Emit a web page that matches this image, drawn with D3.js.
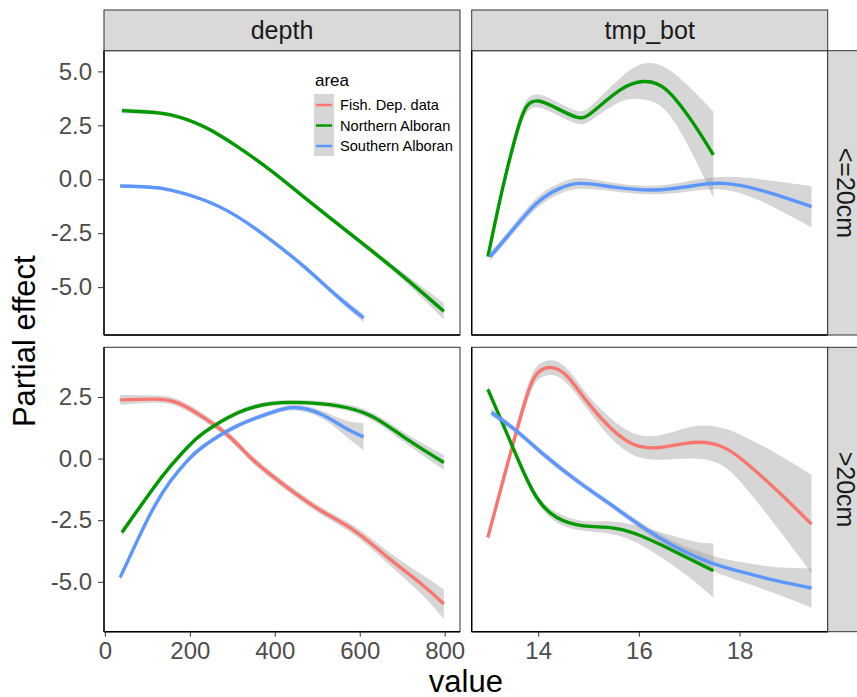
<!DOCTYPE html>
<html>
<head>
<meta charset="utf-8">
<script src="https://cdn.jsdelivr.net/npm/d3@7"></script>
<style>
  body { margin: 0; background: #fff; }
  text { font-family: "Liberation Sans", Arial, sans-serif; }
</style>
</head>
<body>
<div id="chart"></div>
<script>
// facet labels and legend entries
const variables = ["depth", "tmp_bot"];
const sizeClasses = ["<=20cm", ">20cm"];
const areas = ["Fish. Dep. data", "Northern Alboran", "Southern Alboran"];
const areaColors = ["#F8766D", "#009900", "#5B97FF"];

// tick labels
const yTicks = [-5, -2.5, 0, 2.5, 5];
const depthTicks = [0, 200, 400, 600, 800];
const tmpTicks = [14, 16, 18];

// smooth fits: [x, fit, half width of band]
const depthSmallNorth = [[40, 3.18, 0.12], [100, 3.12, 0.1], [155, 2.98, 0.08], [233, 2.44, 0.08], [312, 1.51, 0.08],
  [391, 0.4, 0.08], [469, -0.83, 0.08], [548, -2.07, 0.1], [627, -3.3, 0.12], [706, -4.56, 0.18], [798, -6.12, 0.38]];
const depthSmallSouth = [[36, -0.31, 0.08], [100, -0.36, 0.07], [155, -0.5, 0.07], [233, -0.96, 0.07], [312, -1.73, 0.07],
  [391, -2.82, 0.08], [469, -4.05, 0.1], [548, -5.44, 0.13], [609, -6.43, 0.19]];
const tmpSmallNorth = [[13.0, -3.59, 0.2], [13.3, -0.34, 0.25], [13.57, 2.13, 0.3], [13.77, 3.37, 0.3], [14.0, 3.63, 0.3],
  [14.3, 3.37, 0.3], [14.76, 2.88, 0.3], [15.09, 3.14, 0.35], [15.63, 4.14, 0.55], [16.09, 4.53, 0.83], [16.55, 4.14, 1.0],
  [17.08, 2.6, 1.5], [17.48, 1.13, 2.0]];
const tmpSmallSouth = [[13.04, -3.59, 0.2], [13.44, -2.5, 0.2], [13.97, -1.11, 0.25], [14.43, -0.42, 0.25], [14.83, -0.19, 0.25],
  [15.43, -0.34, 0.2], [16.29, -0.5, 0.2], [17.08, -0.3, 0.25], [17.68, -0.19, 0.3], [18.41, -0.5, 0.5], [19.43, -1.27, 0.95]];
const depthLargeFish = [[36, 2.38, 0.2], [115, 2.41, 0.15], [170, 2.27, 0.15], [233, 1.66, 0.15], [296, 0.85, 0.15],
  [351, -0.09, 0.15], [430, -1.18, 0.15], [509, -2.12, 0.15], [588, -2.93, 0.18], [666, -4.01, 0.25], [745, -5.09, 0.4], [798, -5.9, 0.6]];
const depthLargeNorth = [[40, -3.0, 0.15], [76, -2.12, 0.12], [115, -1.18, 0.1], [155, -0.3, 0.1], [194, 0.45, 0.1],
  [233, 1.05, 0.1], [312, 1.85, 0.1], [391, 2.23, 0.1], [469, 2.27, 0.1], [548, 2.14, 0.12], [627, 1.73, 0.15],
  [706, 0.85, 0.2], [798, -0.16, 0.3]];
const depthLargeSouth = [[36, -4.82, 0.15], [76, -3.34, 0.12], [115, -1.99, 0.1], [155, -0.9, 0.1], [194, -0.09, 0.1],
  [233, 0.51, 0.1], [312, 1.33, 0.1], [391, 1.86, 0.1], [446, 2.07, 0.12], [509, 1.8, 0.15], [564, 1.26, 0.3], [609, 0.88, 0.55]];
const tmpLargeFish = [[13.0, -3.2, 0.15], [13.3, -0.9, 0.2], [13.57, 1.12, 0.25], [13.83, 2.88, 0.3], [14.03, 3.55, 0.3],
  [14.27, 3.69, 0.3], [14.57, 3.35, 0.3], [14.96, 2.34, 0.3], [15.43, 1.26, 0.4], [15.89, 0.58, 0.45], [16.42, 0.45, 0.5],
  [17.08, 0.65, 0.65], [17.62, 0.51, 0.75], [18.08, -0.09, 1.0], [18.75, -1.31, 1.5], [19.43, -2.66, 2.0]];
const tmpLargeNorth = [[13.0, 2.81, 0.15], [13.3, 1.39, 0.15], [13.64, -0.23, 0.15], [13.97, -1.58, 0.15], [14.37, -2.39, 0.2],
  [14.9, -2.73, 0.2], [15.43, -2.8, 0.25], [15.96, -3.07, 0.35], [16.55, -3.61, 0.55], [17.08, -4.15, 0.8], [17.48, -4.55, 1.1]];
const tmpLargeSouth = [[13.07, 1.87, 0.15], [13.57, 1.12, 0.12], [14.1, 0.18, 0.12], [14.77, -0.9, 0.12], [15.43, -1.85, 0.12],
  [16.09, -2.8, 0.15], [16.75, -3.61, 0.2], [17.42, -4.22, 0.3], [18.08, -4.62, 0.4], [18.75, -4.96, 0.55], [19.43, -5.25, 0.8]];

// panels: row = size class, col = variable; series carry area index
const panels = [
  { row: 0, col: 0, series: [[1, depthSmallNorth], [2, depthSmallSouth]] },
  { row: 0, col: 1, series: [[1, tmpSmallNorth], [2, tmpSmallSouth]] },
  { row: 1, col: 0, series: [[0, depthLargeFish], [1, depthLargeNorth], [2, depthLargeSouth]] },
  { row: 1, col: 1, series: [[0, tmpLargeFish], [1, tmpLargeNorth], [2, tmpLargeSouth]] }
];

const width = 857, height = 697;
const colX = [[104, 460], [471.7, 827.7]];
const rowY = [[50.7, 335], [347.3, 631.7]];

const svg = d3.select("#chart").append("svg")
  .attr("width", width)
  .attr("height", height);

// ggplot-style 5% expansion
function expanded(lo, hi) {
  const pad = (hi - lo) * 0.05;
  return [lo - pad, hi + pad];
}

// x scales per column (shared across rows)
const xScales = [0, 1].map(c => {
  const all = panels.filter(p => p.col === c).flatMap(p => p.series.flatMap(s => s[1].map(d => d[0])));
  return d3.scaleLinear().domain(expanded(d3.min(all), d3.max(all))).range(colX[c]);
});
// y scales per row (shared across columns)
const yScales = [0, 1].map(r => {
  const pts = panels.filter(p => p.row === r).flatMap(p => p.series.flatMap(s => s[1]));
  const lo = d3.min(pts, d => d[1] - d[2]), hi = d3.max(pts, d => d[1] + d[2]);
  return d3.scaleLinear().domain(expanded(lo, hi)).range([rowY[r][1], rowY[r][0]]);
});

const defs = svg.append("defs");
panels.forEach((p, i) => {
  defs.append("clipPath").attr("id", "clip" + i).append("rect")
    .attr("x", colX[p.col][0]).attr("y", rowY[p.row][0])
    .attr("width", colX[p.col][1] - colX[p.col][0])
    .attr("height", rowY[p.row][1] - rowY[p.row][0]);
});

// draw panels
panels.forEach((p, i) => {
  const x = xScales[p.col], y = yScales[p.row];
  const g = svg.append("g");
  g.append("rect")
    .attr("x", colX[p.col][0]).attr("y", rowY[p.row][0])
    .attr("width", colX[p.col][1] - colX[p.col][0])
    .attr("height", rowY[p.row][1] - rowY[p.row][0])
    .attr("fill", "#fff").attr("stroke", "#333").attr("stroke-width", 1);

  const inner = g.append("g").attr("clip-path", `url(#clip${i})`);
  const band = d3.area()
    .x(d => x(d[0])).y0(d => y(d[1] - d[2])).y1(d => y(d[1] + d[2]))
    .curve(d3.curveNatural);
  const line = d3.line()
    .x(d => x(d[0])).y(d => y(d[1]))
    .curve(d3.curveNatural);

  p.series.forEach(([a, data]) => {
    inner.append("path").attr("d", band(data))
      .attr("fill", "#999").attr("fill-opacity", 0.4);
  });
  p.series.forEach(([a, data]) => {
    inner.append("path").attr("d", line(data))
      .attr("fill", "none").attr("stroke", areaColors[a]).attr("stroke-width", 3.4);
  });

  // axis lines on left and bottom
  g.append("line")
    .attr("x1", colX[p.col][0]).attr("x2", colX[p.col][0])
    .attr("y1", rowY[p.row][0]).attr("y2", rowY[p.row][1])
    .attr("stroke", "#000").attr("stroke-width", 1.4);
  g.append("line")
    .attr("x1", colX[p.col][0]).attr("x2", colX[p.col][1])
    .attr("y1", rowY[p.row][1]).attr("y2", rowY[p.row][1])
    .attr("stroke", "#000").attr("stroke-width", 1.4);
});

// y axes (left column only)
[0, 1].forEach(r => {
  const dom = yScales[r].domain();
  const ax = svg.append("g")
    .attr("transform", `translate(${colX[0][0]},0)`)
    .call(d3.axisLeft(yScales[r])
      .tickValues(yTicks.filter(t => t >= dom[0] && t <= dom[1]))
      .tickSize(6).tickPadding(6));
  ax.select(".domain").remove();
  ax.selectAll(".tick line").attr("stroke", "#333");
  ax.selectAll(".tick text").attr("fill", "#4d4d4d").style("font-size", "24px")
    .text(d => d3.format(".1f")(d).replace("−", "-"));
});

// x axes (bottom row only)
[[0, depthTicks], [1, tmpTicks]].forEach(([c, ticks]) => {
  const ax = svg.append("g")
    .attr("transform", `translate(0,${rowY[1][1]})`)
    .call(d3.axisBottom(xScales[c]).tickValues(ticks).tickSize(5).tickPadding(5));
  ax.select(".domain").remove();
  ax.selectAll(".tick line").attr("stroke", "#333");
  ax.selectAll(".tick text").attr("fill", "#4d4d4d").style("font-size", "24px");
});

// top strips
variables.forEach((v, c) => {
  svg.append("rect")
    .attr("x", colX[c][0]).attr("y", 10)
    .attr("width", colX[c][1] - colX[c][0]).attr("height", rowY[0][0] - 10)
    .attr("fill", "#d9d9d9").attr("stroke", "#333").attr("stroke-width", 1);
  svg.append("text")
    .attr("x", (colX[c][0] + colX[c][1]) / 2).attr("y", 39)
    .attr("text-anchor", "middle").attr("fill", "#1a1a1a")
    .style("font-size", "25px").text(v);
});

// right strips
sizeClasses.forEach((s, r) => {
  svg.append("rect")
    .attr("x", colX[1][1]).attr("y", rowY[r][0])
    .attr("width", 40).attr("height", rowY[r][1] - rowY[r][0])
    .attr("fill", "#d9d9d9").attr("stroke", "#333").attr("stroke-width", 1);
  const cy = (rowY[r][0] + rowY[r][1]) / 2;
  svg.append("text")
    .attr("transform", `translate(837,${cy}) rotate(90)`)
    .attr("text-anchor", "middle").attr("fill", "#1a1a1a")
    .style("font-size", "25px").text(s);
});

// axis titles
svg.append("text")
  .attr("transform", `translate(35,${(rowY[0][0] + rowY[1][1]) / 2}) rotate(-90)`)
  .attr("text-anchor", "middle").attr("fill", "#000")
  .style("font-size", "31px").text("Partial effect");
svg.append("text")
  .attr("x", (colX[0][0] + colX[1][1]) / 2).attr("y", 692)
  .attr("text-anchor", "middle").attr("fill", "#000")
  .style("font-size", "31px").text("value");

// legend inside the first panel
const legend = svg.append("g").attr("transform", "translate(314,0)");
legend.append("text").attr("x", 1).attr("y", 86)
  .attr("fill", "#000").style("font-size", "17px").text("area");
legend.append("rect").attr("x", 0).attr("y", 94).attr("width", 20).attr("height", 62)
  .attr("fill", "#999").attr("fill-opacity", 0.4);
areas.forEach((a, i) => {
  const cy = 105 + i * 20.5;
  legend.append("line").attr("x1", 2).attr("x2", 18).attr("y1", cy).attr("y2", cy)
    .attr("stroke", areaColors[i]).attr("stroke-width", 2.5);
  legend.append("text").attr("x", 26).attr("y", cy + 5.3)
    .attr("fill", "#000").style("font-size", "14.6px").text(a);
});
</script>
</body>
</html>
